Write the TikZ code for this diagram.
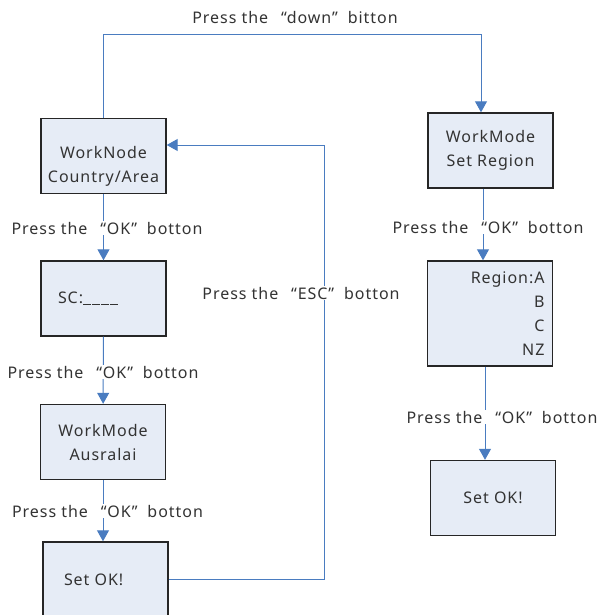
\documentclass[tikz,border=0pt]{standalone}
\usepackage{fontspec}
\setmainfont[LetterSpace=6]{Noto Sans}
\usepackage{tikz}
\usepackage{xcolor}
\usetikzlibrary{arrows.meta, positioning}
\definecolor{Menu_Fill}{HTML}{E6ECF6}
\definecolor{Menu_Link}{HTML}{4A7CC0}
\definecolor{Menu_Text}{HTML}{333333}
\newcommand{\pressbtn}[1]{Press the\hspace{.8em}“#1”\hspace{.3em} botton}
\newcommand{\blankdash}{\rule[-1.5pt]{8pt}{1.1pt}\hspace{1pt}}
\tikzset{
    menubox/.style={draw=black!85, fill=Menu_Fill, line width=1.4pt, text=Menu_Text,
        minimum width=125pt, minimum height=75pt, inner sep=0pt, align=center},
    link/.style={Menu_Link, line width=1pt, -{Triangle[width=12pt,length=11pt]}},
    hint/.style={fill=white, inner sep=1pt, text=Menu_Text}
}

\begin{document}
\begin{tikzpicture}[x=1pt, y=-1pt, font=\fontsize{16pt}{24pt}\selectfont]
    \clip (0,0) rectangle (601,615);
    % left column
    \node[menubox] (country) at (103.5,156)
        {\raisebox{-14pt}[0pt][0pt]{\begin{tabular}{@{}c@{}}WorkNode\\Country/Area\end{tabular}}};
    \node[menubox] (sc) at (103.5,298.5) {\makebox[91pt][l]{SC:\blankdash\blankdash\blankdash\blankdash}};
    \node[menubox] (aus) at (103,442) {WorkMode\\Ausralai};
    \node[menubox] (setokL) at (105.5,579.5) {\makebox[83pt][l]{Set OK!}};
    % right column
    \node[menubox] (setreg) at (490.5,150.5) {WorkMode\\Set Region};
    \node[menubox, minimum height=105pt, align=right, text width=109pt] (regsel) at (490,313.5) {Region:A\\B\\C\\NZ};
    \node[menubox] (setokR) at (493,498) {Set OK!};
    % turning points
    \coordinate (downbar) at (481,35);
    \coordinate (escbar) at (324,145);
    % links
    \draw[link] (country.north) |- (downbar) -- (downbar |- setreg.north);
    \draw[link] (setokL.east) -| (escbar) -- (escbar -| country.east);
    \draw[link] (country) -- (sc);
    \draw[link] (sc) -- (aus);
    \draw[link] (aus) -- (aus |- setokL.north);
    \draw[link] ([xshift=-7.5pt]setreg.south) -- ([xshift=-7.5pt]setreg.south |- regsel.north);
    \draw[link] ([xshift=-5pt]regsel.south) -- ([xshift=-5pt]regsel.south |- setokR.north);
    % labels
    \node[hint] (downlbl) at (295,18) {Press the\hspace{.8em}“down”\hspace{.3em} bitton};
    \node[hint] (esclbl) at (301,293) {\pressbtn{ESC}};
    \node[hint] (oklblA) at (107,228) {\pressbtn{OK}};
    \node[hint] (oklblB) at (103,372) {\pressbtn{OK}};
    \node[hint] (oklblC) at (107.5,511) {\pressbtn{OK}};
    \node[hint] (oklblD) at (488,227) {\pressbtn{OK}};
    \node[hint] (oklblE) at (502,417) {\pressbtn{OK}};
\end{tikzpicture}
\end{document}
